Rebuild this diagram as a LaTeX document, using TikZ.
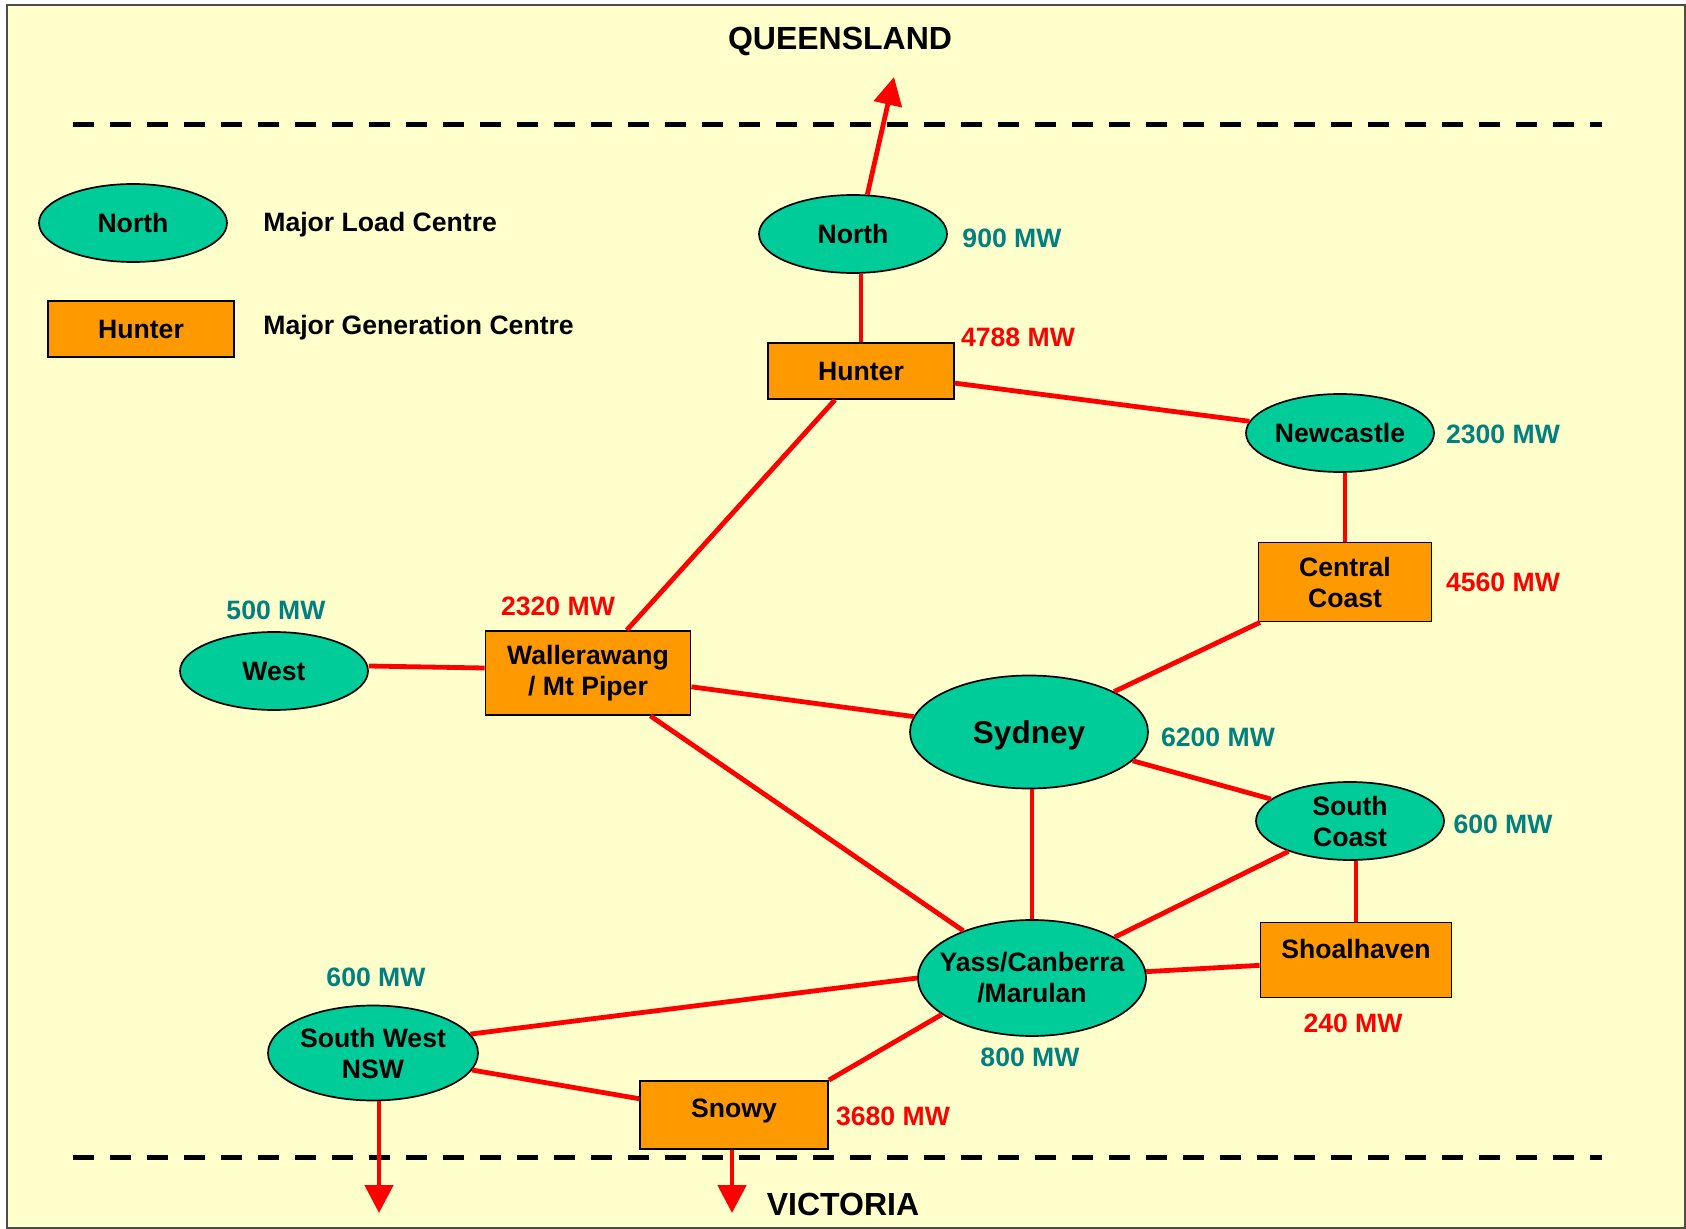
\documentclass[tikz,border=0pt]{standalone}
\usepackage{fontspec}
\setmainfont{Liberation Sans}
\usetikzlibrary{shapes.geometric,arrows.meta}
\definecolor{paper}{HTML}{FFFFCC}
\definecolor{loadgreen}{HTML}{00CC99}
\definecolor{genorange}{HTML}{FF9900}
\definecolor{loadteal}{HTML}{008080}
\definecolor{linered}{HTML}{FF0000}

\begin{document}
\begin{tikzpicture}[x=0.5pt,y=-0.5pt,
  txt/.style={font=\fontsize{13.3}{15.5}\selectfont\bfseries, align=center, inner sep=0pt},
  load/.style={txt, ellipse, draw=black, line width=0.85pt, fill=loadgreen,
               minimum width=94pt, minimum height=39pt},
  gen/.style={txt, rectangle, draw=black, line width=0.9pt, fill=genorange},
  mwload/.style={txt, text=loadteal},
  mwgen/.style={txt, text=linered},
  link/.style={draw=linered, line width=2.4pt},
  feed/.style={link, -{Triangle[width=14pt,length=14pt]}},
  stateline/.style={draw=black, line width=2.5pt, dash pattern=on 10.5pt off 8pt},
  statename/.style={font=\fontsize{16}{19}\selectfont\bfseries, inner sep=0pt, anchor=base}
]
\useasboundingbox (0,0) rectangle (1686,1229);

% paper and frame
\draw[draw=black!70, line width=0.75pt, fill=paper] (7,5) rectangle (1685,1228);

% state borders
\draw[stateline] (73,125) -- (1602,125);
\draw[stateline] (73,1157) -- (1602,1157);
\node[statename] (qldname) at (840,50) {QUEENSLAND};
\node[statename] (vicname) at (843,1215) {VICTORIA};

% legend
\node[load] (keyload) at (133,223) {North};
\node[gen, minimum width=93pt, minimum height=28pt] (keygen) at (141,329) {Hunter};
\node[txt, anchor=base west] (keyloadtext) at (263,232) {Major Load Centre};
\node[txt, anchor=base west] (keygentext) at (263,335) {Major Generation Centre};

% load centres
\node[load] (north) at (853,234) {North};
\node[load] (newcastle) at (1340,433) {Newcastle};
\node[load] (west) at (274,671) {West};
\node[load, font=\fontsize{15.75}{18}\selectfont\bfseries, text depth=0pt,
      minimum width=119pt, minimum height=56.5pt] (sydney) at (1029,732) {Sydney};
\node[load] (southcoast) at (1350,821) {South\\Coast};
\node[load, inner xsep=-9pt, minimum width=114pt, minimum height=58pt] (yass) at (1032,978) {Yass/Canberra\\/Marulan};
\node[load, minimum width=105pt, minimum height=47.5pt] (sw) at (373,1053) {South West\\NSW};

% generation centres
\node[gen, minimum width=93pt, minimum height=28pt] (hunter) at (861,371) {Hunter};
\node[gen, minimum width=86.5pt, minimum height=39.5pt] (cc) at (1345,582) {Central\\Coast};
\node[gen, minimum width=102.5pt, minimum height=42pt] (waller) at (588,673) {Wallerawang\\/ Mt Piper};
\node[gen, minimum width=95.5pt, minimum height=37.5pt] (shoal) at (1356,960) {};
\node[txt] (shoaltext) at (1356,949) {Shoalhaven};
\node[gen, text depth=7pt, minimum width=94pt, minimum height=34pt] (snowy) at (734,1115) {Snowy};

% capacities
\node[mwload] (northmw) at (1012,238) {900 MW};
\node[mwgen] (huntermw) at (1018,337) {4788 MW};
\node[mwload] (newcastlemw) at (1503,434) {2300 MW};
\node[mwgen] (ccmw) at (1503,582) {4560 MW};
\node[mwload] (westmw) at (276,610) {500 MW};
\node[mwgen] (wallermw) at (558,606) {2320 MW};
\node[mwload] (sydneymw) at (1218,737) {6200 MW};
\node[mwload] (southcoastmw) at (1503,824) {600 MW};
\node[mwgen] (shoalmw) at (1353,1023) {240 MW};
\node[mwload] (yassmw) at (1030,1057) {800 MW};
\node[mwload] (swmw) at (376,977) {600 MW};
\node[mwgen] (snowymw) at (893,1116) {3680 MW};

% interstate ends
\coordinate (qld) at (894,77);
\coordinate (vicsw) at (379,1213);
\coordinate (vicsnowy) at (732,1213);

% transmission links
\draw[feed] (north.70) -- (qld);
\draw[link] (hunter.north) -- (hunter.north |- north.south);
\draw[link] (hunter) -- (newcastle);
\draw[link] (hunter) -- (waller);
\draw[link] (cc.north) -- (cc.north |- newcastle.south);
\draw[link] (cc) -- (sydney);
\draw[link] ([yshift=2.5pt]west.east) -- ([yshift=2.5pt]waller.west);
\draw[link] (waller) -- (sydney);
\draw[link] (waller) -- (yass);
\draw[link] (sydney) -- (southcoast);
\draw[link] (yass.north) -- (yass.north |- sydney.south);
\draw[link] (southcoast) -- (yass);
\draw[link] (shoal.north) -- (shoal.north |- southcoast.south);
\draw[link] (yass) -- (shoal);
\draw[link] (sw.11) -- (yass.west);
\draw[link] (sw) -- (snowy);
\draw[link] (snowy.north east) -- (yass.202);
\draw[feed] (sw.south -| vicsw) -- (vicsw);
\draw[feed] (snowy.south -| vicsnowy) -- (vicsnowy);
\end{tikzpicture}
\end{document}
